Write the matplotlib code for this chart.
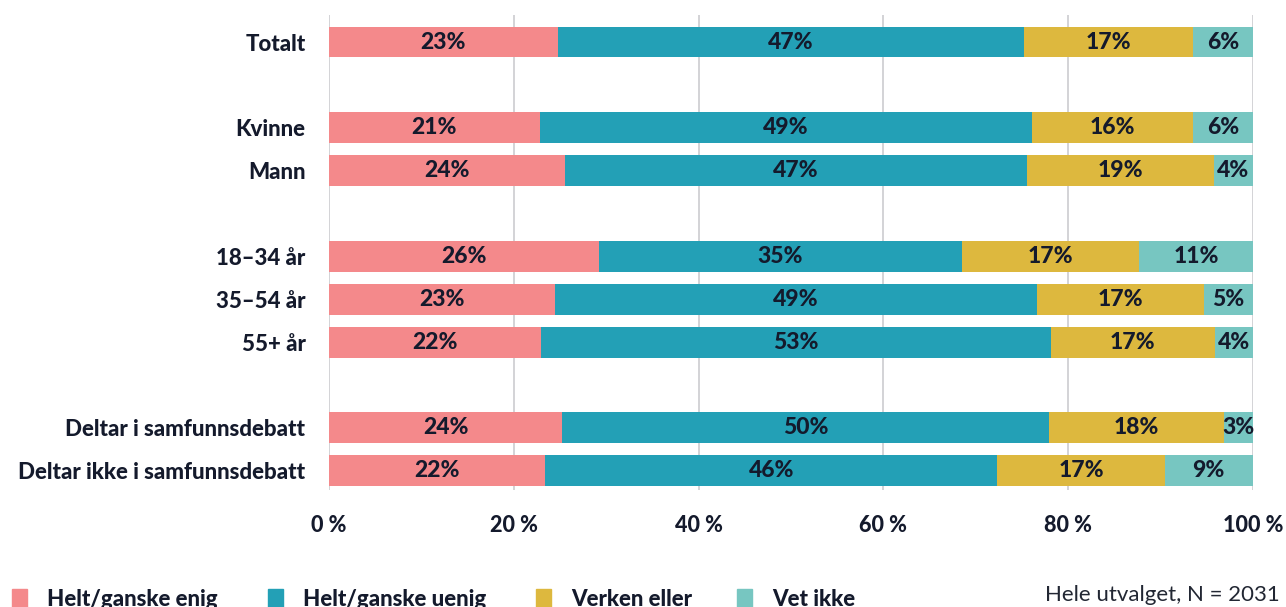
import matplotlib
matplotlib.use("Agg")
import matplotlib.pyplot as plt
from matplotlib.patches import Rectangle
import numpy as np

# ---- data ----
groups = [
    ["Totalt"],
    ["Kvinne", "Mann"],
    ["18–34 år", "35–54 år", "55+ år"],
    ["Deltar i samfunnsdebatt", "Deltar ikke i samfunnsdebatt"],
]
series_names = ["Helt/ganske enig", "Helt/ganske uenig", "Verken eller", "Vet ikke"]
enig = [23, 21, 24, 26, 23, 22, 24, 22]
uenig = [47, 49, 47, 35, 49, 53, 50, 46]
verken = [17, 16, 19, 17, 17, 17, 18, 17]
vet_ikke = [6, 6, 4, 11, 5, 4, 3, 9]
xticks = [0, 20, 40, 60, 80, 100]
xtick_labels = ["0 %", "20 %", "40 %", "60 %", "80 %", "100 %"]
note = "Hele utvalget, N = 2031"

colors = ["#F4898B", "#23A0B6", "#DDB83E", "#77C6C1"]
text_color = "#141A2C"
FONT = "Lato"
W = "black"

# ---- layout ----
labels = []
ypos = []
y = 0
for g in groups:
    for lab in g:
        labels.append(lab)
        ypos.append(y)
        y += 1
    y += 1
ypos = np.array(ypos, dtype=float)

data = np.array([enig, uenig, verken, vet_ikke], dtype=float)
totals = data.sum(axis=0)
norm = data / totals * 100

fig = plt.figure(figsize=(12.86, 6.07), dpi=100)
ax = fig.add_axes([329 / 1286, 1 - 490 / 607, 924 / 1286, 475 / 607])

left = np.zeros(len(labels))
for i in range(4):
    ax.barh(ypos, norm[i], left=left, height=0.72, color=colors[i], zorder=3)
    for j in range(len(labels)):
        ax.text(left[j] + norm[i][j] / 2, ypos[j], f"{int(data[i][j])}%",
                ha="center", va="center", fontsize=16.5, fontweight=W,
                family=FONT, color=text_color, zorder=4)
    left += norm[i]

ax.set_xlim(0, 100)
ax.set_ylim(ypos[-1] + 0.45, -0.63)
ax.set_xticks(xticks)
ax.set_xticklabels(xtick_labels, fontsize=15.5, fontweight=W, family=FONT, color=text_color)
ax.set_yticks(ypos)
ax.set_yticklabels(labels, fontsize=16, fontweight=W, family=FONT, color=text_color)
ax.tick_params(axis="both", length=0)
ax.tick_params(axis="x", pad=18)
ax.tick_params(axis="y", pad=17)
for s in ax.spines.values():
    s.set_visible(False)
ax.grid(axis="x", color="#D3D3D6", linewidth=1.4, zorder=0)
ax.set_axisbelow(True)

# ---- legend ----
leg_x = [12, 268, 536, 737]
for i, name in enumerate(series_names):
    x0 = leg_x[i] / 1286
    fig.patches.append(Rectangle((x0, 0), 15 / 1286, 18 / 607,
                                 transform=fig.transFigure, color=colors[i]))
    fig.text(x0 + 35 / 1286, 1 - 599 / 607, name, fontsize=16, fontweight=W,
             family=FONT, color=text_color, ha="left", va="center")

fig.text(1280 / 1286, 1 - 595 / 607, note, fontsize=16, family=FONT,
         color="#222733", ha="right", va="center")

fig.savefig("out.png", dpi=100)
